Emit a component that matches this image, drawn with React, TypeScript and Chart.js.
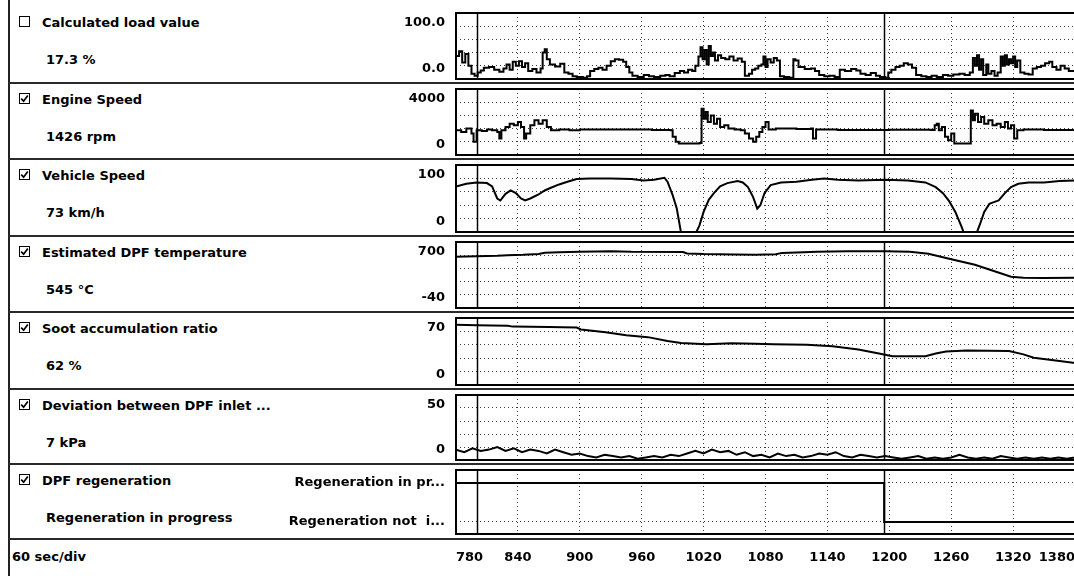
import { useEffect, useRef } from "react";
import { Chart, registerables } from "chart.js";

Chart.register(...registerables);

const FONT_FAMILY = "'DejaVu Sans', Verdana, sans-serif";
const FONT_SIZE = 13;

// ---------- shared time axis (seconds) ----------
const xMin = 780;
const xMax = 1380;
const xTickValues = [780, 840, 900, 960, 1020, 1080, 1140, 1200, 1260, 1320, 1380];
const cursorTimes = [800, 1195];

// ---------- Calculated load value (%) ----------
const loadT = [
  780, 783, 786, 789, 792, 795, 798, 801, 804, 807,
  812, 817, 822, 826, 829, 832, 835, 838, 841, 844,
  847, 850, 854, 858, 862, 864, 866, 868, 871, 876,
  881, 885, 889, 893, 897, 903, 907, 910, 914, 918,
  922, 926, 930, 934, 938, 942, 945, 948, 951, 956,
  962, 967, 972, 978, 983, 987, 992, 997, 1001, 1005,
  1009, 1012, 1015, 1017, 1019, 1021, 1023, 1025, 1027, 1029,
  1031, 1034, 1037, 1041, 1045, 1049, 1053, 1057, 1060, 1064,
  1067, 1070, 1073, 1076, 1078, 1080, 1082, 1085, 1088, 1091,
  1094, 1098, 1103, 1107, 1109, 1112, 1118, 1124, 1128, 1132,
  1137, 1142, 1147, 1152, 1157, 1163, 1168, 1172, 1177, 1182,
  1187, 1191, 1196, 1199, 1202, 1206, 1210, 1214, 1218, 1222,
  1226, 1231, 1236, 1241, 1246, 1252, 1257, 1262, 1268, 1273,
  1278, 1281, 1283, 1285, 1287, 1289, 1291, 1294, 1296, 1299,
  1302, 1305, 1308, 1310, 1312, 1314, 1316, 1318, 1320, 1322,
  1324, 1327, 1331, 1335, 1339, 1343, 1347, 1351, 1355, 1358,
  1362, 1366, 1370, 1374, 1380,
];
const loadV = [
  35, 42, 25, 38, 20, 8, 5, 10, 13, 17,
  18, 14, 11, 16, 22, 14, 26, 20, 27, 18,
  24, 12, 15, 10, 16, 40, 45, 30, 22, 19,
  23, 10, 8, 4, 3, 2, 4, 12, 15, 17,
  14, 20, 27, 30, 29, 26, 18, 10, 5, 3,
  6, 4, 3, 5, 6, 4, 9, 12, 10, 14,
  12, 20, 34, 48, 30, 44, 22, 50, 35, 40,
  28, 36, 32, 30, 34, 28, 31, 26, 5, 8,
  14, 16, 20, 22, 34, 18, 30, 25, 32, 28,
  4, 3, 2, 30, 28, 18, 15, 16, 12, 6,
  4, 5, 3, 14, 12, 15, 13, 8, 6, 9,
  5, 3, 2, 10, 14, 18, 20, 24, 22, 17,
  6, 4, 3, 5, 3, 6, 5, 7, 8, 6,
  10, 32, 20, 36, 14, 30, 6, 22, 8, 12,
  5, 10, 34, 20, 36, 22, 30, 24, 34, 18,
  28, 10, 8, 7, 16, 18, 20, 24, 26, 18,
  14, 20, 16, 12, 15,
];

// ---------- Engine speed (rpm) ----------
const engT = [
  780, 785, 790, 795, 797, 800, 805, 810, 815, 820,
  822, 824, 828, 832, 836, 840, 843, 846, 848, 852,
  856, 860, 864, 868, 872, 880, 890, 900, 920, 950,
  970, 988, 990, 993, 996, 1010, 1016, 1018, 1020, 1022,
  1024, 1027, 1030, 1033, 1036, 1040, 1044, 1050, 1056, 1060,
  1064, 1068, 1071, 1074, 1077, 1080, 1083, 1090, 1110, 1124,
  1126, 1129, 1150, 1200, 1240, 1244, 1246, 1248, 1251, 1254,
  1257, 1260, 1263, 1276, 1279, 1281, 1283, 1286, 1289, 1292,
  1296, 1300, 1304, 1308, 1312, 1315, 1318, 1321, 1324, 1330,
  1350, 1380,
];
const engV = [
  1500, 1400, 1600, 1300, 800, 1500, 1450, 1550, 1500, 1400,
  1000, 1500, 1700, 1900, 1800, 2000, 1700, 1000, 1300, 1800,
  2100, 1900, 2100, 1700, 1500, 1550, 1500, 1550, 1540, 1540,
  1520, 1500, 1100, 800, 700, 700, 720, 2800, 2200, 2600,
  2000, 2400, 1900, 2200, 1700, 1800, 1600, 1550, 1500, 1300,
  1000, 800, 1100, 1400, 1700, 2000, 1550, 1600, 1580, 1600,
  1000, 1550, 1520, 1530, 1520, 1800, 1900, 1500, 1700, 1100,
  900, 1300, 700, 700, 2700, 2100, 2500, 2000, 2300, 1900,
  2100, 1800, 1900, 1700, 2000, 1600, 1800, 1000, 1500, 1550,
  1520, 1530,
];

// ---------- Vehicle speed (km/h) ----------
const vsT = [
  780, 790, 800, 810, 815, 820, 823, 828, 833, 838,
  843, 847, 852, 860, 866, 872, 880, 888, 897, 910,
  930, 950, 962, 972, 982, 985, 990, 994, 998, 1013,
  1016, 1020, 1025, 1030, 1036, 1043, 1053, 1058, 1063, 1068,
  1072, 1075, 1079, 1085, 1095, 1110, 1125, 1137, 1150, 1170,
  1196, 1218, 1235, 1245, 1252, 1258, 1264, 1270, 1272, 1285,
  1288, 1292, 1297, 1302, 1306, 1312, 1318, 1325, 1335, 1350,
  1365, 1380,
];
const vsV = [
  68, 72, 74, 73, 68, 50, 47, 57, 62, 58,
  50, 47, 50, 56, 62, 66, 71, 75, 79, 80,
  80, 79, 77, 78, 81, 75, 55, 35, 0, 0,
  10, 30, 48, 58, 68, 73, 76, 74, 67, 52,
  35, 40, 58, 70, 74, 75, 78, 80, 78, 77,
  78, 77, 74, 67, 58, 46, 30, 8, 0, 0,
  12, 30, 42, 45, 47, 58, 67, 72, 74, 74,
  76, 77,
];

// ---------- Estimated DPF temperature (°C) ----------
const tempT = [
  780, 800, 820, 830, 845, 860, 866, 880, 900, 930,
  950, 1000, 1004, 1020, 1050, 1070, 1090, 1096, 1110, 1130,
  1160, 1196, 1220, 1238, 1257, 1283, 1302, 1318, 1330, 1350,
  1380,
];
const tempV = [
  535, 540, 545, 552, 556, 565, 580, 585, 592, 596,
  590, 588, 572, 565, 560, 558, 562, 578, 583, 592,
  596, 596, 590, 568, 515, 445, 372, 310, 298, 295,
  298,
];

// ---------- Soot accumulation ratio (%) ----------
const sootT = [
  780, 800, 830, 835, 870, 897, 901, 925, 945, 966,
  985, 998, 1023, 1047, 1070, 1088, 1120, 1145, 1170, 1190,
  1203, 1235, 1245, 1255, 1275, 1316, 1330, 1340, 1365, 1380,
];
const sootV = [
  63, 62.5, 62, 61, 60.5, 60, 58, 55, 52, 50,
  46, 44, 42.5, 43.5, 43, 42.5, 42, 40.5, 37, 33,
  30, 30, 33, 35, 36, 35.5, 32, 28.5, 25, 23,
];

// ---------- Deviation between DPF inlet/outlet pressure (kPa) ----------
const devT = [
  780, 788, 796, 804, 812, 820, 828, 836, 844, 852,
  860, 868, 876, 884, 892, 900, 908, 916, 924, 932,
  940, 948, 956, 964, 972, 980, 988, 996, 1004, 1012,
  1020, 1028, 1036, 1044, 1052, 1060, 1068, 1076, 1084, 1092,
  1100, 1108, 1116, 1124, 1132, 1140, 1148, 1156, 1164, 1172,
  1180, 1188, 1196, 1204, 1212, 1220, 1228, 1236, 1244, 1252,
  1260, 1268, 1276, 1284, 1292, 1300, 1308, 1316, 1324, 1332,
  1340, 1348, 1356, 1364, 1372, 1380,
];
const devV = [
  8, 6, 9, 7, 8, 10, 7, 9, 6, 8,
  7, 5, 8, 6, 4, 5, 3, 2, 4, 3,
  2, 3, 1, 2, 3, 2, 4, 3, 5, 7,
  5, 8, 6, 7, 4, 6, 3, 4, 2, 5,
  3, 4, 2, 3, 5, 4, 6, 3, 2, 4,
  3, 2, 3, 2, 1, 2, 3, 1, 2, 1,
  2, 4, 2, 1, 2, 1, 3, 2, 1, 2,
  1, 2, 1, 2, 1, 2,
];

// ---------- DPF regeneration state (1 = in progress, 0 = not in progress) ----------
const regenT = [780, 1195, 1380];
const regenV = [1, 0, 0];
const regenStateLabels = ["Regeneration not  i...", "Regeneration in pr..."];

// ---------- left panel texts ----------
const rowTitles = [
  "Calculated load value",
  "Engine Speed",
  "Vehicle Speed",
  "Estimated DPF temperature",
  "Soot accumulation ratio",
  "Deviation between DPF inlet ...",
  "DPF regeneration",
];
const rowValues = ["17.3 %", "1426 rpm", "73 km/h", "545 °C", "62 %", "7 kPa", "Regeneration in progress"];
const rowChecked = [false, true, true, true, true, true, true];
const yMins = [0, 0, 0, -40, 0, 0];
const yMaxs = [100, 4000, 100, 700, 70, 50];
const yTopLabels = ["100.0", "4000", "100", "700", "70", "50"];
const yBottomLabels = ["0.0", "0", "0", "-40", "0", "0"];
const footerText = "60 sec/div";

const seriesT = [loadT, engT, vsT, tempT, sootT, devT, regenT];
const seriesV = [loadV, engV, vsV, tempV, sootV, devV, regenV];
const seriesStepped = [true, true, false, false, false, false, true];

// ---------- layout ----------
const PAGE_W = 1074;
const PAGE_H = 576;
const ROW_TOPS = [6, 83, 159, 236, 312, 389, 464];
const FOOTER_TOP = 539;
const CANVAS_LEFT = 280;
const PLOT_LEFT = 456;
const PLOT_RIGHT = 1075;
const GRID_COLOR = "#3a3a3a";
const LAST_X_AXIS_H = 42;

const framePlugin = {
  id: "frameAndCursors",
  afterDatasetsDraw(chart: any) {
    const { ctx, chartArea: a, scales } = chart;
    ctx.save();
    ctx.strokeStyle = "#000";
    ctx.lineWidth = 1.5;
    cursorTimes.forEach((t) => {
      const x = Math.round(scales.x.getPixelForValue(t)) + 0.5;
      ctx.beginPath();
      ctx.moveTo(x, a.top);
      ctx.lineTo(x, a.bottom);
      ctx.stroke();
    });
    ctx.lineWidth = 2;
    ctx.strokeRect(a.left, a.top, a.right - a.left, a.bottom - a.top);
    ctx.restore();
  },
};

function fixYWidth(s: any) {
  s.width = PLOT_LEFT - CANVAS_LEFT;
  s.paddingTop = 0;
  s.paddingBottom = 0;
  s.paddingLeft = 0;
  s.paddingRight = 0;
}

function buildConfig(index: number): any {
  const isLast = index === ROW_TOPS.length - 1;
  const t = seriesT[index];
  const v = seriesV[index];
  const data = t.map((x, i) => ({ x, y: v[i] }));

  const tickFont = { family: FONT_FAMILY, size: FONT_SIZE, weight: "bold" as const };

  let yScale: any;
  if (isLast) {
    yScale = {
      type: "linear",
      min: -0.31,
      max: 1.33,
      afterBuildTicks: (s: any) => {
        s.ticks = [{ value: 0 }, { value: 1 }];
      },
      afterFit: fixYWidth,
      ticks: {
        autoSkip: false,
        padding: 11,
        color: "#000",
        font: tickFont,
        callback: (val: number) => regenStateLabels[Math.round(val)] ?? "",
      },
      grid: { color: GRID_COLOR, lineWidth: 1, drawTicks: false },
      border: { display: false, dash: [1, 3] },
    };
  } else {
    const lo = yMins[index];
    const hi = yMaxs[index];
    yScale = {
      type: "linear",
      min: lo,
      max: hi,
      afterBuildTicks: (s: any) => {
        const step = (hi - lo) / 5;
        s.ticks = [0, 1, 2, 3, 4, 5].map((k) => ({ value: lo + k * step }));
      },
      afterFit: fixYWidth,
      ticks: {
        autoSkip: false,
        padding: 11,
        color: "#000",
        font: { ...tickFont, lineHeight: "20px" },
        callback: (_v: number, i: number, ticks: any[]) =>
          i === ticks.length - 1 ? ["", yTopLabels[index]] : i === 0 ? [yBottomLabels[index], ""] : "",
      },
      grid: { color: GRID_COLOR, lineWidth: 1, drawTicks: false },
      border: { display: false, dash: [1, 3] },
    };
  }

  return {
    type: "line",
    data: {
      datasets: [
        {
          data,
          borderColor: "#000",
          borderWidth: 2,
          pointRadius: 0,
          fill: false,
          tension: 0,
          stepped: seriesStepped[index],
        },
      ],
    },
    options: {
      animation: false,
      responsive: false,
      maintainAspectRatio: false,
      events: [],
      layout: { padding: { top: index === 0 ? 7 : 6, bottom: isLast ? 0 : 4, left: 0, right: 0 } },
      plugins: { legend: { display: false }, tooltip: { enabled: false } },
      scales: {
        x: {
          type: "linear",
          min: xMin,
          max: xMax,
          afterBuildTicks: (s: any) => {
            s.ticks = xTickValues.map((value) => ({ value }));
          },
          afterFit: (s: any) => {
            s.height = isLast ? LAST_X_AXIS_H : 0;
            s.paddingLeft = 0;
            s.paddingRight = 0;
            s.paddingTop = 0;
            s.paddingBottom = 0;
          },
          ticks: {
            display: isLast,
            autoSkip: false,
            maxRotation: 0,
            align: "inner",
            padding: 16,
            color: "#000",
            font: tickFont,
            callback: (val: number) => String(val),
          },
          grid: { color: GRID_COLOR, lineWidth: 1, drawTicks: false },
          border: { display: false, dash: [1, 3] },
        },
        y: yScale,
      },
    },
    plugins: [framePlugin],
  };
}

function ChartRow({ index }: { index: number }) {
  const ref = useRef<HTMLCanvasElement>(null);
  const top = ROW_TOPS[index];
  const isLast = index === ROW_TOPS.length - 1;
  const height = (isLast ? PAGE_H : ROW_TOPS[index + 1]) - top;
  const width = PLOT_RIGHT - CANVAS_LEFT;
  useEffect(() => {
    const chart = new Chart(ref.current as HTMLCanvasElement, buildConfig(index));
    return () => chart.destroy();
  }, [index]);
  return (
    <canvas
      ref={ref}
      width={width}
      height={height}
      style={{ position: "absolute", left: CANVAS_LEFT, top, width, height, display: "block" }}
    />
  );
}

function CheckBox({ checked, top }: { checked: boolean; top: number }) {
  return (
    <div
      style={{
        position: "absolute",
        left: 19,
        top,
        width: 9,
        height: 9,
        border: "1.5px solid #000",
        background: "#fff",
      }}
    >
      {checked && (
        <svg width="9" height="9" style={{ position: "absolute", left: 0, top: 0 }}>
          <polyline points="1.2,4.6 3.6,7.2 7.8,1.6" fill="none" stroke="#000" strokeWidth="1.7" />
        </svg>
      )}
    </div>
  );
}

const textStyle: any = {
  position: "absolute",
  fontFamily: FONT_FAMILY,
  fontSize: FONT_SIZE,
  fontWeight: "bold",
  lineHeight: "16px",
  whiteSpace: "nowrap",
  color: "#000",
};

export default function App() {
  const separators = [...ROW_TOPS.slice(1), FOOTER_TOP];
  return (
    <div
      style={{
        position: "absolute",
        left: 0,
        top: 0,
        width: PAGE_W,
        height: PAGE_H,
        overflow: "hidden",
        background: "#fff",
      }}
    >
      <div style={{ position: "absolute", left: 8, top: 0, width: 2, height: PAGE_H, background: "#222" }} />
      {separators.map((y, i) => (
        <div
          key={"sep" + i}
          style={{ position: "absolute", left: 8, top: y - 1, width: PAGE_W - 8, height: 2, background: "#2a2a2a" }}
        />
      ))}
      {ROW_TOPS.map((top, i) => (
        <div key={"lbl" + i}>
          <CheckBox checked={rowChecked[i]} top={top + 10} />
          <div style={{ ...textStyle, left: 42, top: top + 9 }}>{rowTitles[i]}</div>
          <div style={{ ...textStyle, left: 46, top: top + 46 }}>{rowValues[i]}</div>
        </div>
      ))}
      <div style={{ ...textStyle, left: 12, top: 549 }}>{footerText}</div>
      {ROW_TOPS.map((_, i) => (
        <ChartRow key={"chart" + i} index={i} />
      ))}
    </div>
  );
}
